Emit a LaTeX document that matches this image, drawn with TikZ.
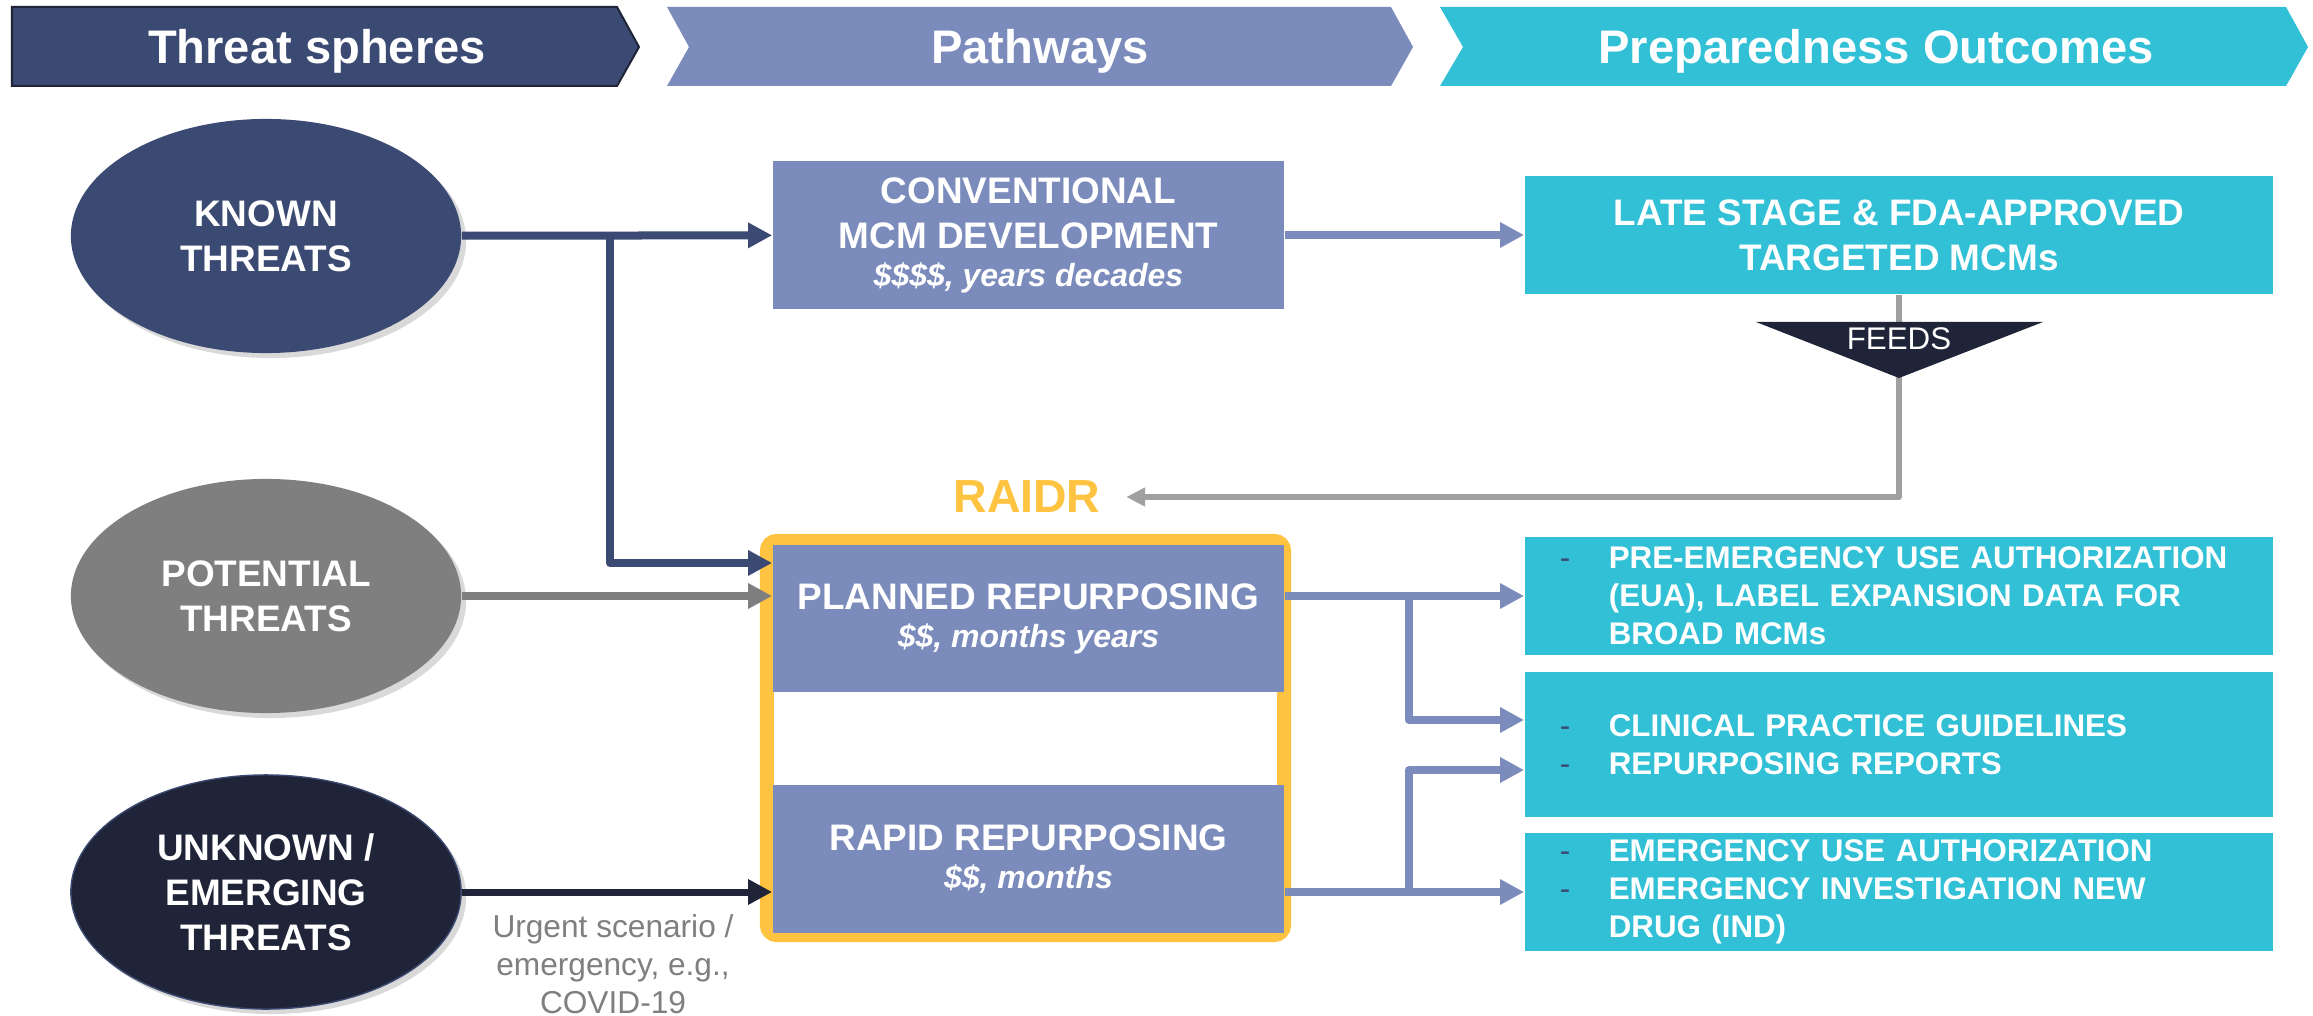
\documentclass[tikz,border=0pt]{standalone}
\usepackage{fontspec}
\setmainfont{Liberation Sans}
\usetikzlibrary{arrows.meta,shapes.geometric,shadows}

\definecolor{navy}{HTML}{3B4A72}
\definecolor{lav}{HTML}{7B8BBB}
\definecolor{teal2}{HTML}{31C0D6}
\definecolor{midgray}{HTML}{7F7F7F}
\definecolor{linegray}{HTML}{A0A0A0}
\definecolor{ink}{HTML}{1F2438}
\definecolor{gold}{HTML}{FFC342}

\newcommand{\costfont}{\itshape\fontsize{9.1}{10.8}\selectfont}
\newcommand{\outitem}[1]{\hspace*{0.35cm}\makebox[0.49cm][l]{\mdseries\textcolor{navy}{-}}#1}
\newcommand{\outmore}[1]{\hspace*{0.84cm}#1}

\begin{document}
\begin{tikzpicture}[x=0.01cm,y=-0.01cm,
  hdr/.style={text=white,anchor=base,font=\bfseries\fontsize{13.4}{16}\selectfont},
  threat/.style={ellipse,minimum width=3.9cm,minimum height=2.34cm,inner sep=0pt,text=white,align=center,
    font=\bfseries\fontsize{10.5}{12.8}\selectfont,drop shadow={opacity=0.3,shadow xshift=0.05cm,shadow yshift=-0.05cm}},
  pbox/.style={fill=lav,text=white,align=center,minimum width=5.11cm,inner sep=0pt,font=\bfseries\fontsize{10.5}{12.8}\selectfont},
  obox/.style={fill=teal2,text=white,minimum width=7.48cm,inner sep=0pt,font=\bfseries\fontsize{10.5}{12.8}\selectfont},
  olist/.style={obox,text width=7.48cm,align=left,font=\bfseries\fontsize{8.9}{10.8}\selectfont},
  flow/.style={line width=0.08cm,line join=round,-{Triangle[length=0.24cm,width=0.24cm]}}]
\useasboundingbox (0,0) rectangle (2313,1016);

% header
\fill[navy,draw=ink,line width=0.02cm] (12,7) -- (617,7) -- (639,47) -- (617,86) -- (12,86) -- cycle;
\fill[lav] (667,7) -- (1391,7) -- (1413,47) -- (1391,86) -- (667,86) -- (689,47) -- cycle;
\fill[teal2] (1440,7) -- (2286,7) -- (2308,47) -- (2286,86) -- (1440,86) -- (1463,47) -- cycle;
\node[hdr] (h1) at (317,64) {Threat spheres};
\node[hdr] (h2) at (1040,64) {Pathways};
\node[hdr] (h3) at (1876,64) {Preparedness Outcomes};

% threat spheres
\node[threat,fill=navy] (known) at (266,236) {KNOWN\\THREATS};
\node[threat,fill=midgray] (potential) at (266,596) {POTENTIAL\\THREATS};
\node[threat,fill=ink,draw=navy] (unknown) at (266,892) {UNKNOWN /\\EMERGING\\THREATS};

% pathways
\node[pbox,minimum height=1.48cm] (conv) at (1028.5,235) {CONVENTIONAL\\MCM DEVELOPMENT\\[-2pt]{\costfont \$\$\$\$, years decades}};
\node[draw=gold,line width=0.14cm,rounded corners=0.1cm,minimum width=5.17cm,minimum height=3.94cm] (raidrbox) at (1025.5,738) {};
\node[pbox,minimum height=1.47cm] (planned) at (1028.5,618.5) {PLANNED REPURPOSING\\[-2pt]{\costfont \$\$, months years}};
\node[pbox,minimum height=1.48cm] (rapid) at (1028.5,859) {RAPID REPURPOSING\\[-2pt]{\costfont \$\$, months}};
\node[text=gold,inner xsep=0.25cm,font=\bfseries\fontsize{13.2}{16}\selectfont] (raidr) at (1027,497) {RAIDR};
\node[text=midgray,align=center,anchor=base,font=\fontsize{9}{10.8}\selectfont] (urgent) at (613,1013) {Urgent scenario /\\emergency, e.g.,\\COVID-19};

% outcomes
\node[obox,minimum height=1.18cm,align=center] (late) at (1899,235) {LATE STAGE \& FDA-APPROVED\\TARGETED MCMs};
\node[olist,minimum height=1.18cm] (out1) at (1899,596)
  {\outitem{PRE-EMERGENCY USE AUTHORIZATION}\\\outmore{(EUA), LABEL EXPANSION DATA FOR}\\\outmore{BROAD MCMs}};
\node[olist,minimum height=1.45cm] (out2) at (1899,744.5)
  {\outitem{CLINICAL PRACTICE GUIDELINES}\\\outitem{REPURPOSING REPORTS}};
\node[olist,minimum height=1.18cm] (out3) at (1899,892)
  {\outitem{EMERGENCY USE AUTHORIZATION}\\\outitem{EMERGENCY INVESTIGATION NEW}\\\outmore{DRUG (IND)}};

% connectors
\coordinate (split1) at (610,236);
\coordinate (split2) at (1409,596);
\coordinate (split3) at (1409,892);
\draw[flow,navy] (known) -- (conv);
\draw[flow,navy] (split1) |- ([yshift=0.555cm]planned.west);
\draw[flow,midgray] (potential) -- (potential -| planned.west);
\draw[flow,ink,line width=0.07cm] (unknown) -- (unknown -| rapid.west);
\draw[flow,lav] (conv) -- (late);
\draw[flow,lav] (out1 -| planned.east) -- (out1.west);
\draw[flow,lav] (split2) |- ([yshift=0.245cm]out2.west);
\draw[flow,lav] (out3 -| rapid.east) -- (out3.west);
\draw[flow,lav] (split3) |- ([yshift=-0.255cm]out2.west);
\draw[linegray,line width=0.06cm,line join=round,-{Triangle[length=0.19cm,width=0.18cm]}] (late.south) |- (raidr.east);

% feeds marker
\fill[ink] (1756,322) -- (2043,322) -- (1899,378) -- cycle;
\node[text=white,font=\fontsize{8.9}{10}\selectfont] (feeds) at (1899,339) {FEEDS};
\end{tikzpicture}
\end{document}
